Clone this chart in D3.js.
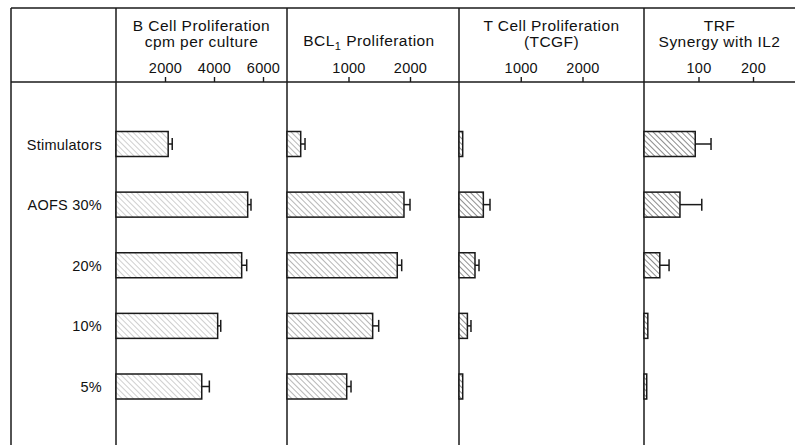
<!DOCTYPE html>
<html>
<head>
<meta charset="utf-8">
<script src="https://cdn.jsdelivr.net/npm/d3@7"></script>
<style>
  html, body { margin: 0; padding: 0; background: #fff; }
  svg { display: block; }
  text { font-family: "Liberation Sans", Arial, Helvetica, sans-serif; fill: #111; }
</style>
</head>
<body>
<svg id="chart" width="795" height="445"></svg>
<script>
// Row categories (top to bottom)
const rows = ["Stimulators", "AOFS 30%", "20%", "10%", "5%"];

// Panel headings
const panelTitles = [
  ["B Cell Proliferation", "cpm per culture"],
  ["BCL1 Proliferation"],
  ["T Cell Proliferation", "(TCGF)"],
  ["TRF", "Synergy with IL2"]
];

// Axis tick labels per panel
const ticksBCell = [2000, 4000, 6000];
const ticksBCL1 = [1000, 2000];
const ticksTCGF = [1000, 2000];
const ticksTRF = [100, 200];

// Means and error bars (same order as rows)
const bCellValues = [2130, 5375, 5130, 4150, 3500];
const bCellErrors = [165, 135, 205, 125, 310];
const bcl1Values = [223, 1902, 1793, 1393, 971];
const bcl1Errors = [70, 98, 72, 98, 70];
const tcgfValues = [60, 394, 259, 136, 60];
const tcgfErrors = [0, 108, 65, 58, 0];
const trfValues = [94, 66, 29, 7, 5];
const trfErrors = [29, 40, 17, 0, 0];

const W = 795, H = 445;
const frameTop = 8, headerY = 82, leftEdge = 11;
const panelEdges = [116, 287, 459, 644, 795];

const svg = d3.select("#chart");
const ink = "#1a1a1a";

// Hatch patterns (lines running from upper left to lower right)
const defs = svg.append("defs");
const hatchTones = ["#a0a0a0", "#707070", "#333", "#2a2a2a"];
hatchTones.forEach((c, i) => {
  const p = defs.append("pattern")
    .attr("id", "hatch" + i)
    .attr("patternUnits", "userSpaceOnUse")
    .attr("width", 4).attr("height", 4)
    .attr("patternTransform", "rotate(-45)");
  p.append("rect").attr("width", 4).attr("height", 4).attr("fill", "#fff");
  p.append("line")
    .attr("x1", 0).attr("y1", 0).attr("x2", 0).attr("y2", 4)
    .attr("stroke", c).attr("stroke-width", i < 2 ? 1 : 1.1);
});

// Frame
const frame = svg.append("g").attr("stroke", ink).attr("stroke-width", 1.5).attr("fill", "none");
frame.append("line").attr("x1", leftEdge).attr("x2", W).attr("y1", frameTop).attr("y2", frameTop);
frame.append("line").attr("x1", leftEdge).attr("x2", W).attr("y1", headerY).attr("y2", headerY);
[leftEdge].concat(panelEdges.slice(0, 4)).forEach(x => {
  frame.append("line").attr("x1", x).attr("x2", x).attr("y1", frameTop).attr("y2", H);
});

// Row positions
const y = d3.scalePoint().domain(rows).range([144, 386.5]);
const barH = 25;

svg.append("g").selectAll("text").data(rows).join("text")
  .attr("x", 102)
  .attr("y", d => y(d) + 5.5)
  .attr("text-anchor", "end")
  .style("font-size", "14.5px")
  .style("letter-spacing", "0.25px")
  .text(d => d);

// Panels
const panels = [
  { values: bCellValues, errors: bCellErrors, ticks: ticksBCell, domain: [0, 6000], range: [116, 263] },
  { values: bcl1Values, errors: bcl1Errors, ticks: ticksBCL1, domain: [0, 2000], range: [287, 410] },
  { values: tcgfValues, errors: tcgfErrors, ticks: ticksTCGF, domain: [0, 2000], range: [459, 582.5] },
  { values: trfValues, errors: trfErrors, ticks: ticksTRF, domain: [0, 200], range: [644, 753] }
];

panels.forEach((p, i) => {
  const x = d3.scaleLinear().domain(p.domain).range(p.range);
  const cx = (panelEdges[i] + panelEdges[i + 1]) / 2;
  const g = svg.append("g");

  // Heading
  const title = panelTitles[i];
  if (title.length === 2) {
    [31, 47].forEach((ty, k) => {
      g.append("text").attr("x", cx).attr("y", ty)
        .attr("text-anchor", "middle")
        .style("font-size", "15.5px").style("letter-spacing", "0.45px")
        .text(title[k]);
    });
  } else {
    const t = g.append("text").attr("x", cx - 4).attr("y", 46)
      .attr("text-anchor", "middle")
      .style("font-size", "15.5px").style("letter-spacing", "0.45px");
    t.append("tspan").text("BCL");
    t.append("tspan").attr("dy", 4).style("font-size", "11px").text("1");
    t.append("tspan").attr("dy", -4).text(" Proliferation");
  }

  // Axis
  const axis = d3.axisTop(x).tickValues(p.ticks).tickFormat(d3.format("d"))
    .tickSize(5).tickPadding(4);
  const ag = g.append("g").attr("transform", `translate(0,${headerY})`).call(axis);
  ag.select(".domain").remove();
  ag.selectAll(".tick line").attr("stroke", ink).attr("stroke-width", 1.4);
  ag.selectAll(".tick text")
    .attr("fill", "#111")
    .style("font-family", "'Liberation Sans', Arial, Helvetica, sans-serif")
    .style("font-size", "14.5px")
    .style("letter-spacing", "0.3px");

  // Error bars
  const eg = g.append("g").attr("stroke", ink).attr("stroke-width", 1.5);
  rows.forEach((r, k) => {
    const e = p.errors[k];
    if (e <= 0) return;
    const x1 = x(p.values[k]), x2 = x(p.values[k] + e), cy = y(r);
    eg.append("line").attr("x1", x1).attr("x2", x2).attr("y1", cy).attr("y2", cy);
    eg.append("line").attr("x1", x2).attr("x2", x2).attr("y1", cy - 6).attr("y2", cy + 6);
  });

  // Bars
  g.append("g").selectAll("rect").data(rows).join("rect")
    .attr("x", x(0))
    .attr("y", d => y(d) - barH / 2)
    .attr("width", (d, k) => x(p.values[k]) - x(0))
    .attr("height", barH)
    .attr("fill", `url(#hatch${i})`)
    .attr("stroke", ink)
    .attr("stroke-width", 1.5);
});
</script>
</body>
</html>
